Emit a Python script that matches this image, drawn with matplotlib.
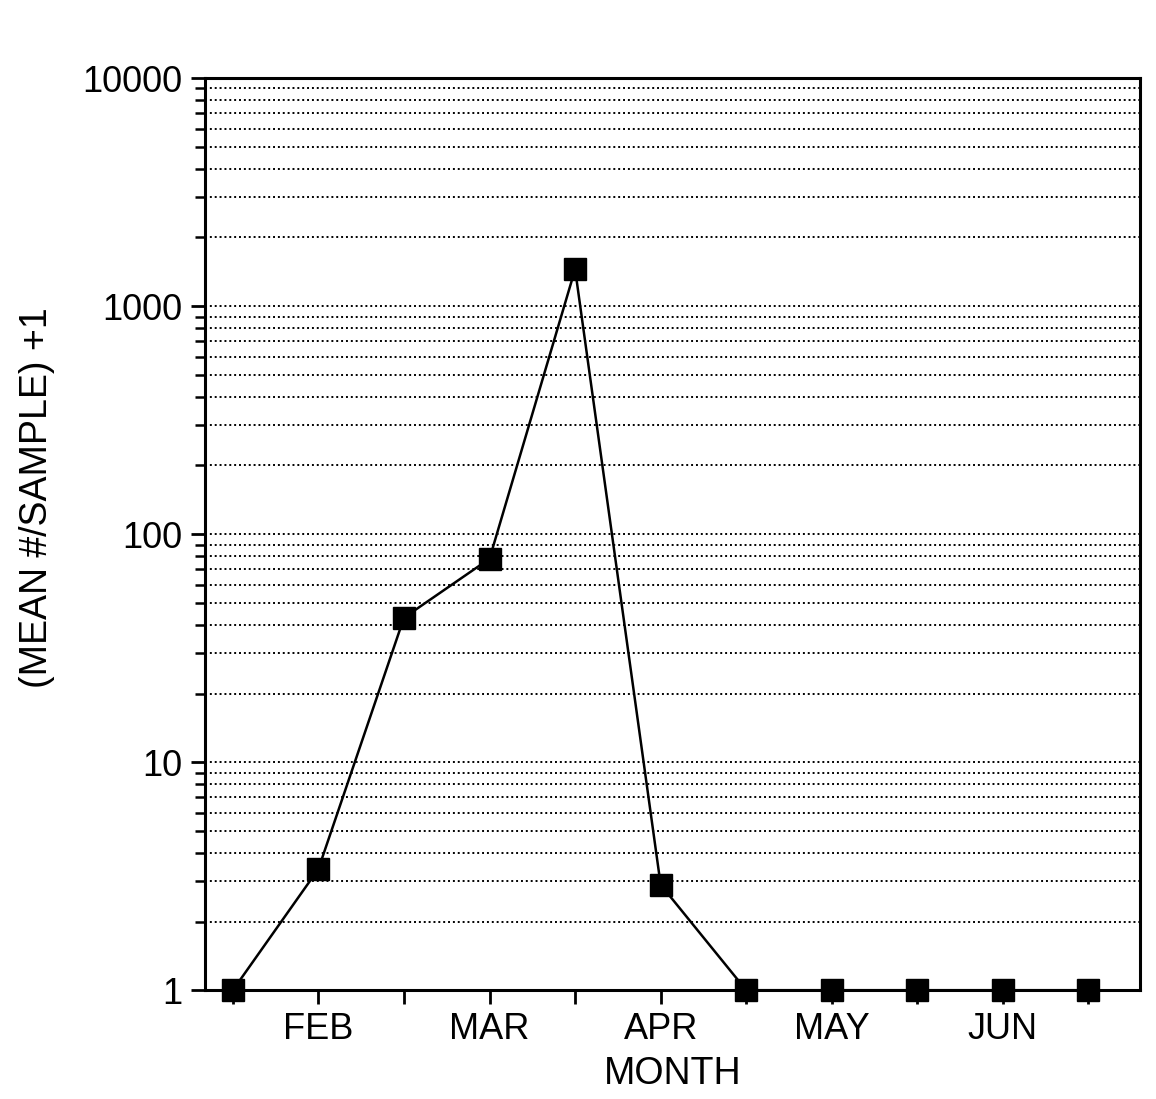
import matplotlib.pyplot as plt
from matplotlib.ticker import LogLocator, NullFormatter, FixedLocator, FixedFormatter

plt.rcParams['font.family'] = ['Liberation Sans', 'DejaVu Sans']

# half-month sampling points, Jan .. Jun
samplePos = list(range(11))
meanPlusOne = [1.0, 3.4, 43, 78, 1450, 2.9, 1.0, 1.0, 1.0, 1.0, 1.0]
monthLabels = ["", "FEB", "", "MAR", "", "APR", "", "MAY", "", "JUN", ""]

figure = plt.figure(figsize=(11.56, 10.99), dpi=100)
axes = figure.add_axes([0.177, 0.099, 0.809, 0.83])

#line with square markers
axes.plot(samplePos, meanPlusOne, color='black', linewidth=1.8,
          marker='s', markersize=16, markerfacecolor='black', clip_on=False, zorder=3)

#log y axis
axes.set_yscale('log')
axes.set_ylim(1, 10000)
axes.set_yticks([1, 10, 100, 1000, 10000])
axes.set_yticklabels(["1", "10", "100", "1000", "10000"])
axes.yaxis.set_minor_locator(LogLocator(base=10, subs=range(2, 10)))
axes.yaxis.set_minor_formatter(NullFormatter())
axes.grid(True, which='both', axis='y', linestyle=(0, (1, 1.5)), color='black', linewidth=1.4)

#x axis
axes.set_xlim(-0.33, 10.6)
axes.xaxis.set_major_locator(FixedLocator(samplePos))
axes.xaxis.set_major_formatter(FixedFormatter(monthLabels))

axes.tick_params(axis='both', which='major', direction='out', length=10, width=2,
                 labelsize=26, pad=6)
axes.tick_params(axis='y', which='minor', direction='out', length=7, width=1.8)
for spine in axes.spines.values():
    spine.set_linewidth(2.2)

axes.set_xlabel("MONTH", fontsize=27, labelpad=6)
axes.set_ylabel("(MEAN #/SAMPLE) +1", fontsize=27)
axes.yaxis.set_label_coords(-0.16, 0.54)

plt.savefig("out.png", dpi=100)
